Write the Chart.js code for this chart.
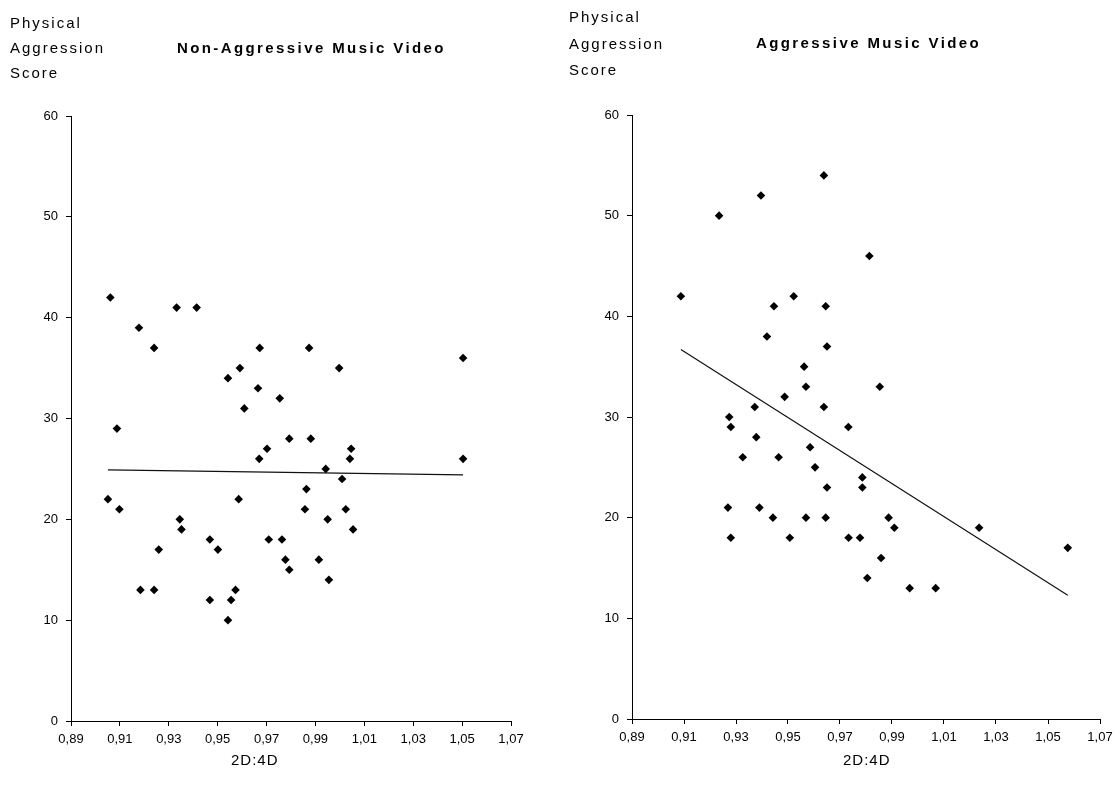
<!DOCTYPE html>
<html><head><meta charset="utf-8">
<script src="https://cdn.jsdelivr.net/npm/chart.js@4"></script>
<style>
body{margin:0;background:#fff;width:1120px;height:798px;overflow:hidden;position:relative;font-family:"Liberation Sans",Arial,sans-serif;}
.box{position:absolute;top:0;width:560px;height:798px;}
.t{position:absolute;color:#000;white-space:nowrap;line-height:16px;}
.yt{font-size:15px;letter-spacing:2px;}
.ct{font-size:15px;font-weight:bold;letter-spacing:2.4px;}
.xt{font-size:15px;letter-spacing:1px;}
</style></head><body>
<div class="box" style="left:0"><canvas id="c1"></canvas></div>
<div class="box" style="left:560px"><canvas id="c2"></canvas></div>
<script>
// ---- data ----
const xTicks = [0.89,0.91,0.93,0.95,0.97,0.99,1.01,1.03,1.05,1.07];
const yTicks = [0,10,20,30,40,50,60];
const yTitleLines = ["Physical","Aggression","Score"];
const xTitle = "2D:4D";
const titles = ["Non-Aggressive Music Video","Aggressive Music Video"];

// Non-aggressive music video
const nonAggX = [0.9061,0.9332,0.9414,0.9178,0.9240,0.9672,0.9591,0.9542,0.9665,0.9754,0.9609,0.9088,0.9793,0.9702,0.9670,0.9874,0.9997,1.0504,0.9881,1.0046,1.0041,1.0504,0.9942,1.0009,0.9863,0.9857,1.0024,0.9950,1.0054,0.9914,0.9955,0.9051,0.9098,0.9345,0.9352,0.9586,0.9468,0.9501,0.9259,0.9709,0.9763,0.9777,0.9793,0.9184,0.9240,0.9573,0.9468,0.9555,0.9542];
const nonAggY = [42,41,41,39,37,37,35,34,33,32,31,29,28,27,26,37,35,36,28,27,26,26,25,24,23,21,21,20,19,16,14,22,21,20,19,22,18,17,17,18,18,16,15,13,13,13,12,12,10];
const nonAggTrendX = [0.9051,1.0504];
const nonAggTrendY = [24.9,24.4];

// Aggressive music video
const aggX = [0.9638,0.9396,0.9235,0.9813,0.9088,0.9522,0.9446,0.9645,0.9419,0.9650,0.9562,0.9569,0.9853,0.9487,0.9372,0.9638,0.9274,0.9280,0.9732,0.9378,0.9585,0.9326,0.9464,0.9604,0.9786,0.9650,0.9786,0.9269,0.9390,0.9442,0.9569,0.9645,0.9887,0.9909,1.0235,0.9280,0.9507,0.9733,0.9777,0.9858,1.0576,0.9805,0.9968,1.0068];
const aggY = [54,52,50,46,42,42,41,41,38,37,35,33,33,32,31,31,30,29,29,28,27,26,26,25,24,23,23,21,21,20,20,20,20,19,19,18,18,18,18,16,17,14,13,13];
const aggTrendX = [0.9088,1.0576];
const aggTrendY = [36.7,12.3];

const FONT = '"Liberation Sans", Arial, sans-serif';

function addText(cls, txt, left, top){
  const d = document.createElement('div');
  d.className = 't ' + cls; d.textContent = txt;
  d.style.left = left + 'px'; d.style.top = top + 'px';
  document.body.appendChild(d);
  return d;
}

function makeChart(id, xs, ys, tx, ty, pad){
  const pts = xs.map((x,i)=>({x:x, y:ys[i]}));
  const trend = tx.map((x,i)=>({x:x, y:ty[i]}));
  const axisCommon = {
    grid:{drawOnChartArea:false, drawTicks:true, tickLength:5, color:'#000', lineWidth:1},
    border:{display:true, color:'#000', width:1}
  };
  return new Chart(document.getElementById(id), {
    type:'scatter',
    data:{datasets:[
      {data:pts, pointStyle:'rectRot', pointRadius:4.3, backgroundColor:'#000', borderColor:'#000', borderWidth:0, showLine:false},
      {data:trend, showLine:true, borderColor:'#111', borderWidth:1.2, pointRadius:0, fill:false}
    ]},
    options:{
      responsive:true, maintainAspectRatio:false, animation:false,
      layout:{padding:pad},
      plugins:{legend:{display:false}, tooltip:{enabled:false}, title:{display:false}},
      scales:{
        x:Object.assign({type:'linear', min:xTicks[0], max:xTicks[xTicks.length-1],
          afterBuildTicks:(ax)=>{ax.ticks = xTicks.map(v=>({value:v}));},
          afterFit:(s)=>{s.height = 30;},
          ticks:{color:'#000', font:{family:FONT, size:13}, padding:6, maxRotation:0, autoSkip:false,
            callback:(v)=>Number(v).toFixed(2).replace('.',',')}
        }, axisCommon),
        y:Object.assign({type:'linear', min:yTicks[0], max:yTicks[yTicks.length-1],
          afterBuildTicks:(ax)=>{ax.ticks = yTicks.map(v=>({value:v}));},
          afterFit:(s)=>{s.width = 40;},
          ticks:{color:'#000', font:{family:FONT, size:13}, padding:8}
        }, axisCommon)
      }
    }
  });
}

makeChart('c1', nonAggX, nonAggY, nonAggTrendX, nonAggTrendY, {left:31, right:49, top:116, bottom:47});
makeChart('c2', aggX, aggY, aggTrendX, aggTrendY, {left:32, right:20, top:115, bottom:49});

// text labels
addText('yt', yTitleLines[0], 10, 15);
addText('yt', yTitleLines[1], 10, 40);
addText('yt', yTitleLines[2], 10, 65);
addText('ct', titles[0], 177, 40);
addText('xt', xTitle, 231, 752);

addText('yt', yTitleLines[0], 569, 9);
addText('yt', yTitleLines[1], 569, 36);
addText('yt', yTitleLines[2], 569, 62);
addText('ct', titles[1], 756, 35);
addText('xt', xTitle, 843, 752);
</script>
</body></html>
